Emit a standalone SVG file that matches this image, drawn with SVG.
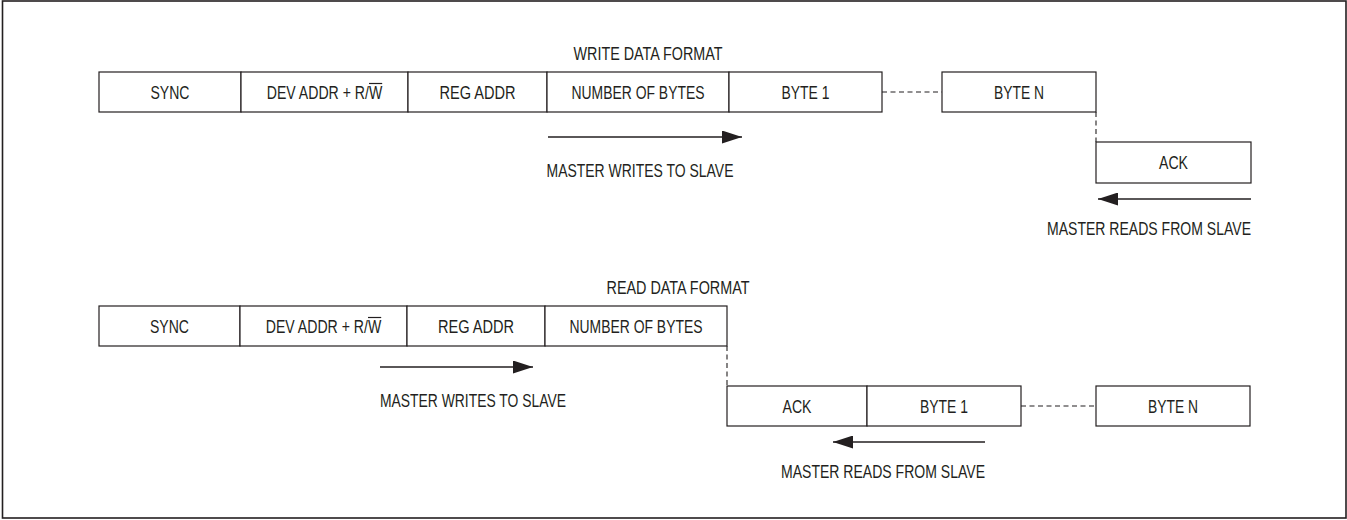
<svg xmlns="http://www.w3.org/2000/svg" width="1347" height="520" viewBox="0 0 1347 520">
<style>
.frame{fill:#fff;stroke:#231f20;stroke-width:1.6}
.box{fill:#fff;stroke:#231f20;stroke-width:1.2}
.t{font-family:"Liberation Sans",Arial,sans-serif;font-size:18px;fill:#231f20;text-anchor:middle}
.te{text-anchor:end}
.ol{stroke:#231f20;stroke-width:1.2}
.dash{fill:none;stroke:#231f20;stroke-width:1.1;stroke-dasharray:5 3.5}
.arr{fill:none;stroke:#231f20;stroke-width:1.5;marker-end:url(#ah)}
</style>
<defs>
<marker id="ah" markerUnits="userSpaceOnUse" markerWidth="20" markerHeight="13" refX="20" refY="6.5" orient="auto">
<path d="M0,0 L20,6.5 L0,13 z" fill="#231f20"/>
</marker>
</defs>
<rect class="frame" x="2.5" y="1" width="1343.5" height="517"/>

<text class="t" x="648" y="60" textLength="149" lengthAdjust="spacingAndGlyphs">WRITE DATA FORMAT</text>
<text class="t" x="678" y="294" textLength="143" lengthAdjust="spacingAndGlyphs">READ DATA FORMAT</text>

<!-- write row -->
<g id="w-sync"><rect class="box" x="99" y="72" width="142" height="40"/><text class="t" x="170" y="98.5" textLength="39" lengthAdjust="spacingAndGlyphs">SYNC</text></g>
<g id="w-dev"><rect class="box" x="241" y="72" width="167" height="40"/><text class="t" x="324.5" y="98.5" textLength="115.5" lengthAdjust="spacingAndGlyphs">DEV ADDR + R/W</text><line class="ol" x1="369" y1="83.5" x2="382.2" y2="83.5"/></g>
<g id="w-reg"><rect class="box" x="408" y="72" width="139" height="40"/><text class="t" x="477.5" y="98.5" textLength="76" lengthAdjust="spacingAndGlyphs">REG ADDR</text></g>
<g id="w-num"><rect class="box" x="547" y="72" width="182" height="40"/><text class="t" x="638" y="98.5" textLength="133" lengthAdjust="spacingAndGlyphs">NUMBER OF BYTES</text></g>
<g id="w-b1"><rect class="box" x="729" y="72" width="153" height="40"/><text class="t" x="805.5" y="98.5" textLength="48" lengthAdjust="spacingAndGlyphs">BYTE 1</text></g>
<g id="w-bn"><rect class="box" x="942" y="72" width="154" height="40"/><text class="t" x="1019" y="98.5" textLength="50" lengthAdjust="spacingAndGlyphs">BYTE N</text></g>
<g id="w-ack"><rect class="box" x="1096" y="142" width="155" height="41"/><text class="t" x="1173.5" y="169" textLength="29" lengthAdjust="spacingAndGlyphs">ACK</text></g>

<!-- read row -->
<g id="r-sync"><rect class="box" x="99" y="306" width="141" height="40"/><text class="t" x="169.5" y="332.5" textLength="39" lengthAdjust="spacingAndGlyphs">SYNC</text></g>
<g id="r-dev"><rect class="box" x="240" y="306" width="167" height="40"/><text class="t" x="323.5" y="332.5" textLength="115.5" lengthAdjust="spacingAndGlyphs">DEV ADDR + R/W</text><line class="ol" x1="368" y1="317.5" x2="381.2" y2="317.5"/></g>
<g id="r-reg"><rect class="box" x="407" y="306" width="138" height="40"/><text class="t" x="476" y="332.5" textLength="76" lengthAdjust="spacingAndGlyphs">REG ADDR</text></g>
<g id="r-num"><rect class="box" x="545" y="306" width="182" height="40"/><text class="t" x="636" y="332.5" textLength="133" lengthAdjust="spacingAndGlyphs">NUMBER OF BYTES</text></g>
<g id="r-ack"><rect class="box" x="727" y="386" width="140" height="40"/><text class="t" x="797" y="412.5" textLength="29" lengthAdjust="spacingAndGlyphs">ACK</text></g>
<g id="r-b1"><rect class="box" x="867" y="386" width="154" height="40"/><text class="t" x="944" y="412.5" textLength="48" lengthAdjust="spacingAndGlyphs">BYTE 1</text></g>
<g id="r-bn"><rect class="box" x="1096" y="386" width="154" height="40"/><text class="t" x="1173" y="412.5" textLength="50" lengthAdjust="spacingAndGlyphs">BYTE N</text></g>

<g id="connectors">
<line class="dash" x1="882" y1="92" x2="942" y2="92"/>
<line class="dash" x1="1096" y1="112" x2="1096" y2="142"/>
<line class="dash" x1="727" y1="346" x2="727" y2="386"/>
<line class="dash" x1="1021" y1="406" x2="1096" y2="406"/>
<line class="arr" x1="548" y1="137" x2="742" y2="137"/>
<line class="arr" x1="1251" y1="199" x2="1098" y2="199"/>
<line class="arr" x1="380" y1="367" x2="533" y2="367"/>
<line class="arr" x1="985" y1="442" x2="833" y2="442"/>
<text class="t" x="640" y="177" textLength="187" lengthAdjust="spacingAndGlyphs">MASTER WRITES TO SLAVE</text>
<text class="t te" x="1251" y="235" textLength="204" lengthAdjust="spacingAndGlyphs">MASTER READS FROM SLAVE</text>
<text class="t" x="473" y="407" textLength="186" lengthAdjust="spacingAndGlyphs">MASTER WRITES TO SLAVE</text>
<text class="t te" x="985" y="478" textLength="204" lengthAdjust="spacingAndGlyphs">MASTER READS FROM SLAVE</text>
</g>
</svg>
